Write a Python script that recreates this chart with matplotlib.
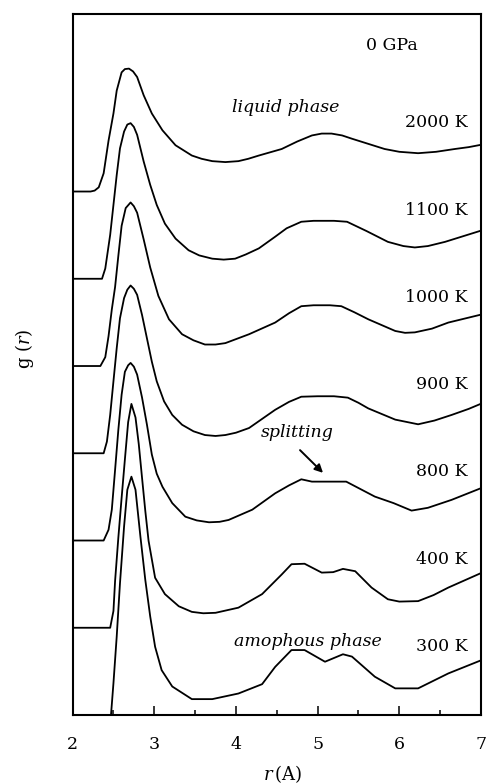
import numpy as np
import matplotlib
matplotlib.use("Agg")
import matplotlib.pyplot as plt

# g(r) curves (r in Angstrom)
r_2000 = [2.0, 2.22, 2.27, 2.32, 2.38, 2.44, 2.50, 2.54, 2.60, 2.64, 2.69, 2.74, 2.79, 2.87,
          2.97, 3.10, 3.26, 3.46, 3.58, 3.71, 3.87, 4.03, 4.15, 4.28, 4.56, 4.75, 4.93, 5.05,
          5.17, 5.30, 5.42, 5.62, 5.82, 6.0, 6.23, 6.45, 6.68, 6.85, 7.0]
g_2000 = [0, 0, 0.02, 0.09, 0.39, 1.09, 1.67, 2.16, 2.55, 2.62, 2.63, 2.57, 2.45, 2.06,
          1.67, 1.31, 0.99, 0.77, 0.70, 0.65, 0.63, 0.65, 0.70, 0.77, 0.91, 1.07, 1.20, 1.24,
          1.24, 1.20, 1.13, 1.02, 0.91, 0.85, 0.82, 0.85, 0.91, 0.95, 1.00]

r_1100 = [2.0, 2.36, 2.40, 2.46, 2.50, 2.54, 2.58, 2.63, 2.67, 2.71, 2.75, 2.79, 2.87, 2.95,
          3.03, 3.13, 3.26, 3.42, 3.55, 3.71, 3.85, 3.99, 4.12, 4.28, 4.48, 4.62, 4.80, 4.95,
          5.20, 5.36, 5.60, 5.86, 6.05, 6.19, 6.35, 6.56, 7.0]
g_1100 = [0, 0, 0.22, 0.94, 1.58, 2.22, 2.79, 3.15, 3.30, 3.33, 3.25, 3.08, 2.51, 2.01,
          1.58, 1.18, 0.86, 0.61, 0.50, 0.43, 0.41, 0.43, 0.52, 0.65, 0.90, 1.08, 1.22, 1.24,
          1.24, 1.22, 1.02, 0.79, 0.70, 0.67, 0.70, 0.79, 1.03]

r_1000 = [2.0, 2.34, 2.40, 2.44, 2.48, 2.52, 2.56, 2.60, 2.65, 2.71, 2.75, 2.79, 2.87, 2.95,
          3.05, 3.18, 3.34, 3.48, 3.62, 3.75, 3.87, 4.16, 4.48, 4.65, 4.80, 4.95, 5.15, 5.29,
          5.45, 5.62, 5.95, 6.07, 6.19, 6.40, 6.60, 7.0]
g_1000 = [0, 0, 0.19, 0.64, 1.21, 1.69, 2.36, 3.00, 3.38, 3.50, 3.42, 3.28, 2.71, 2.11,
          1.50, 1.00, 0.68, 0.55, 0.46, 0.46, 0.49, 0.68, 0.93, 1.13, 1.28, 1.30, 1.30, 1.28,
          1.15, 1.00, 0.75, 0.71, 0.72, 0.80, 0.93, 1.10]

r_900 = [2.0, 2.38, 2.42, 2.46, 2.50, 2.54, 2.58, 2.63, 2.67, 2.71, 2.75, 2.79, 2.85, 2.91,
         2.97, 3.03, 3.12, 3.22, 3.34, 3.48, 3.62, 3.75, 3.87, 4.0, 4.16, 4.48, 4.65, 4.80,
         5.0, 5.20, 5.37, 5.50, 5.62, 5.95, 6.23, 6.43, 6.64, 6.85, 7.0]
g_900 = [0, 0, 0.25, 0.82, 1.54, 2.25, 2.89, 3.32, 3.50, 3.59, 3.52, 3.39, 2.96, 2.46,
         1.96, 1.54, 1.11, 0.82, 0.61, 0.47, 0.39, 0.37, 0.39, 0.44, 0.54, 0.93, 1.10, 1.21,
         1.22, 1.22, 1.19, 1.08, 0.96, 0.72, 0.62, 0.70, 0.82, 0.95, 1.06]

r_800 = [2.0, 2.38, 2.44, 2.48, 2.52, 2.56, 2.60, 2.64, 2.68, 2.71, 2.75, 2.79, 2.85, 2.91,
         2.97, 3.03, 3.10, 3.22, 3.38, 3.52, 3.67, 3.80, 3.91, 4.20, 4.48, 4.65, 4.80, 4.93,
         5.35, 5.70, 5.93, 6.15, 6.35, 6.64, 7.0]
g_800 = [0, 0, 0.23, 0.66, 1.51, 2.37, 3.12, 3.61, 3.75, 3.80, 3.72, 3.55, 3.06, 2.48,
         1.84, 1.43, 1.15, 0.80, 0.51, 0.43, 0.39, 0.40, 0.44, 0.66, 1.01, 1.18, 1.31, 1.26,
         1.26, 0.94, 0.80, 0.64, 0.70, 0.87, 1.12]

r_400 = [2.0, 2.46, 2.50, 2.52, 2.56, 2.60, 2.64, 2.68, 2.72, 2.77, 2.81, 2.85, 2.89, 2.93,
         3.01, 3.13, 3.30, 3.46, 3.60, 3.75, 4.03, 4.32, 4.56, 4.68, 4.84, 5.05, 5.19, 5.31,
         5.46, 5.66, 5.86, 6.0, 6.23, 6.42, 6.60, 7.0]
g_400 = [0, 0, 0.36, 1.00, 1.93, 2.78, 3.60, 4.40, 4.79, 4.50, 3.93, 3.21, 2.50, 1.86,
         1.07, 0.72, 0.46, 0.34, 0.31, 0.32, 0.43, 0.72, 1.14, 1.36, 1.37, 1.18, 1.19, 1.26,
         1.21, 0.86, 0.61, 0.56, 0.57, 0.70, 0.86, 1.17]

r_300 = [2.0, 2.47, 2.50, 2.54, 2.58, 2.63, 2.67, 2.72, 2.77, 2.83, 2.89, 2.95, 3.01, 3.09,
         3.22, 3.46, 3.71, 4.03, 4.32, 4.48, 4.68, 4.84, 5.09, 5.31, 5.42, 5.70, 5.95, 6.23,
         6.60, 7.0]
g_300 = [0, 0, 0.68, 1.68, 2.82, 4.03, 4.82, 5.10, 4.82, 3.82, 2.89, 2.11, 1.46, 0.96,
         0.61, 0.34, 0.34, 0.46, 0.66, 1.03, 1.39, 1.39, 1.14, 1.30, 1.25, 0.82, 0.57, 0.57,
         0.89, 1.17]

# bottom to top
temperatures = ["300 K", "400 K", "800 K", "900 K", "1000 K", "1100 K", "2000 K"]
curves_r = [r_300, r_400, r_800, r_900, r_1000, r_1100, r_2000]
curves_g = [g_300, g_400, g_800, g_900, g_1000, g_1100, g_2000]

step = 1.867  # vertical shift between curves

plt.rcParams["font.family"] = ["DejaVu Serif"]
plt.rcParams["mathtext.fontset"] = "custom"
plt.rcParams["mathtext.rm"] = "DejaVu Serif"
plt.rcParams["mathtext.it"] = "DejaVu Serif:italic"

fig = plt.figure(figsize=(4.86, 7.84), dpi=100)
ax = fig.add_axes([0.1494, 0.088, 0.8403, 0.8941])

for i, (r, g, lab) in enumerate(zip(curves_r, curves_g, temperatures)):
    shift = i * step
    ax.plot(r, np.array(g) + shift, color="black", lw=1.3)
    ax.text(6.84, shift + 1.47, lab, ha="right", va="center", fontsize=12.5)

ax.text(5.91, 14.33, "0 GPa", ha="center", va="center", fontsize=12.5)
ax.text(4.61, 13.0, "liquid phase", ha="center", va="center", fontsize=12.5, style="italic")
ax.text(4.75, 6.04, "splitting", ha="center", va="center", fontsize=12.5, style="italic")
ax.text(4.88, 1.58, "amophous phase", ha="center", va="center", fontsize=12.5, style="italic")
ax.annotate("", xy=(5.09, 5.14), xytext=(4.76, 5.71),
            arrowprops=dict(arrowstyle="-|>", color="black", lw=1.4, mutation_scale=12))

ax.set_xlim(2, 7)
ax.set_ylim(0, 15)
ax.set_xticks([2, 3, 4, 5, 6, 7])
ax.set_xticks(np.arange(2.5, 7, 1.0), minor=True)
ax.set_yticks([])
ax.tick_params(axis="x", which="both", direction="in", top=False, labelsize=12.5, pad=15)
ax.tick_params(axis="x", which="major", length=6.5, width=1.1)
ax.tick_params(axis="x", which="minor", length=3.6, width=1.1)
for sp in ax.spines.values():
    sp.set_linewidth(1.5)

ax.set_xlabel(r"$r\,$(A)", fontsize=13)
ax.xaxis.set_label_coords(0.513, -0.068)
ax.set_ylabel(r"g ($r$)", fontsize=13)
ax.yaxis.set_label_coords(-0.09, 0.522)

fig.savefig("out.png", dpi=100)
